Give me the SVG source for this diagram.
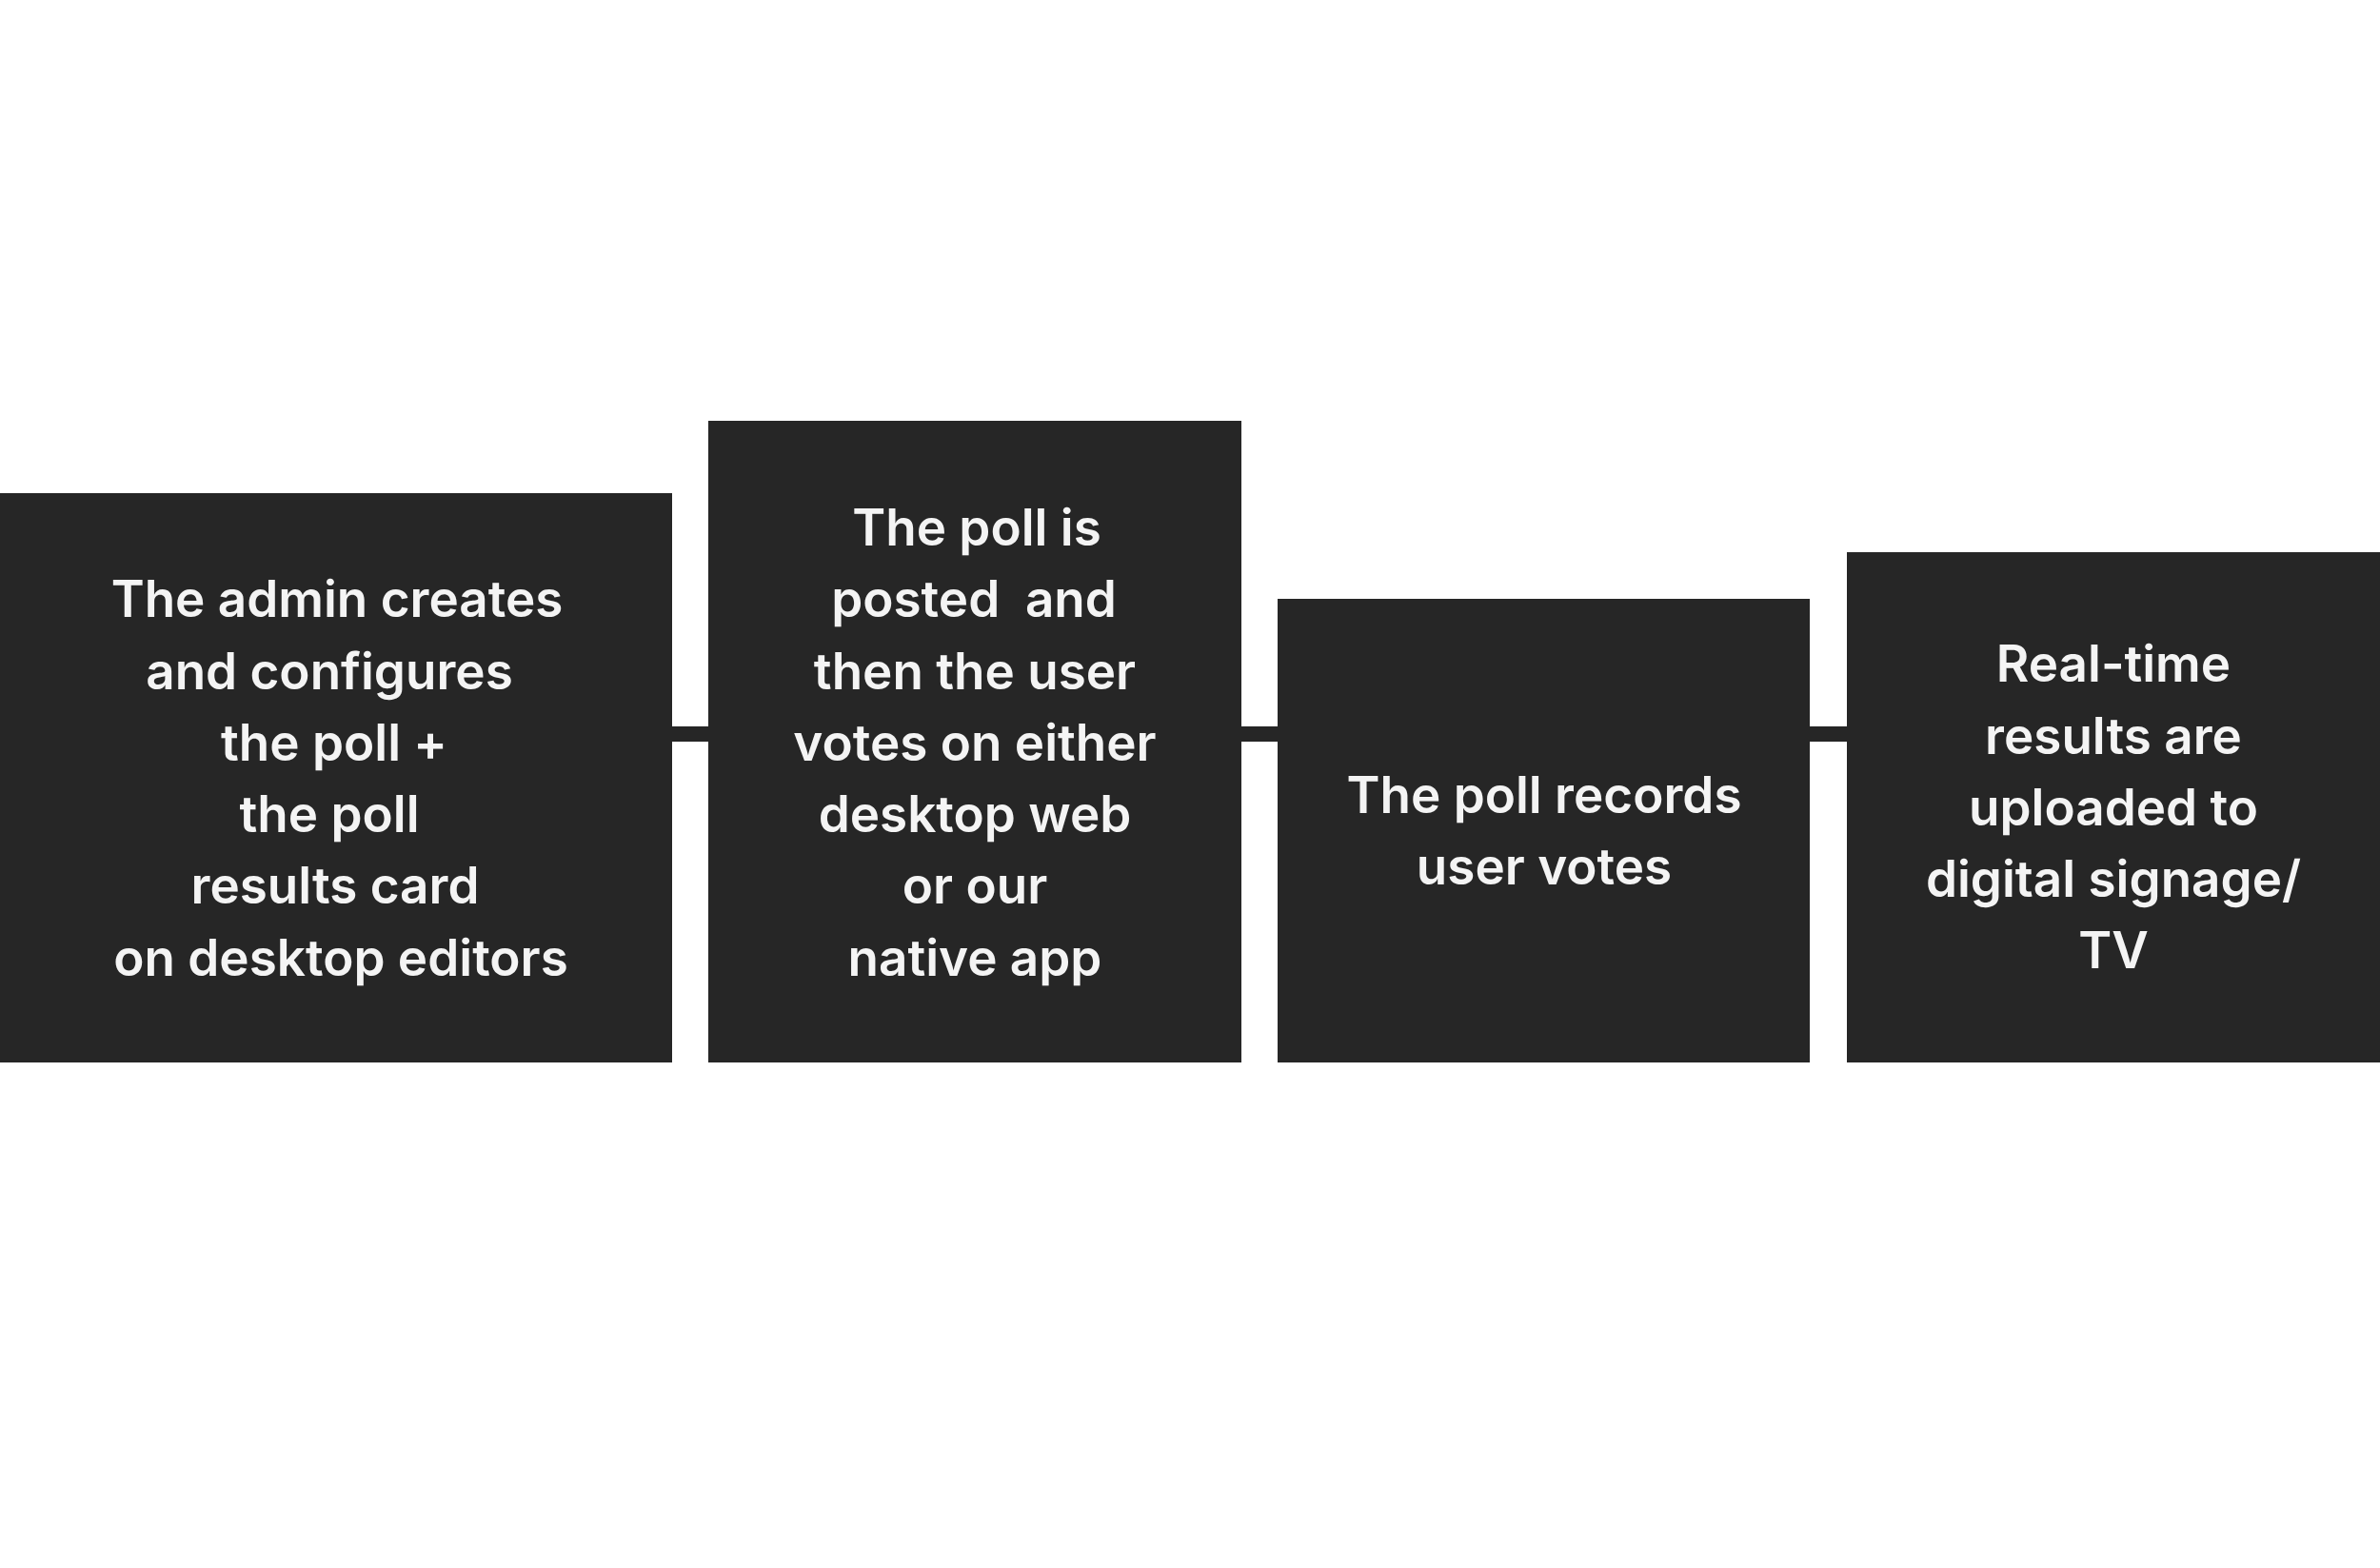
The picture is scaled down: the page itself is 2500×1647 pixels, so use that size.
<svg xmlns="http://www.w3.org/2000/svg" width="2500" height="1647" viewBox="0 0 2500 1647">
<style>
.box{fill:#262626}
.conn{fill:#262626}
.lbl{font-family:Inter,"Noto Sans","Liberation Sans",sans-serif;font-weight:600;font-size:53px;fill:#f4f4f4;text-anchor:middle}
</style>
<rect x="0" y="0" width="2500" height="1647" fill="#ffffff"/>
<g id="connectors">
<rect class="conn" x="700" y="763" width="50" height="16"/>
<rect class="conn" x="1298" y="763" width="50" height="16"/>
<rect class="conn" x="1895" y="763" width="50" height="16"/>
</g>
<g id="node1">
<rect class="box" x="0" y="518" width="706" height="598"/>
<text class="lbl" x="354" y="648">The admin creates</text>
<text class="lbl" x="346" y="724">and configures</text>
<text class="lbl" x="351" y="799">the poll +</text>
<text class="lbl" x="346" y="874">the poll</text>
<text class="lbl" x="352" y="949">results card</text>
<text class="lbl" x="358" y="1025">on desktop editors</text>
</g>
<g id="node2">
<rect class="box" x="744" y="442" width="560" height="674"/>
<text class="lbl" x="1026" y="573">The poll is</text>
<text class="lbl" x="1023" y="648" style="white-space:pre">posted  and</text>
<text class="lbl" x="1024" y="724">then the user</text>
<text class="lbl" x="1024" y="799">votes on either</text>
<text class="lbl" x="1024" y="874">desktop web</text>
<text class="lbl" x="1024" y="949">or our</text>
<text class="lbl" x="1024" y="1025">native app</text>
</g>
<g id="node3">
<rect class="box" x="1342" y="629" width="559" height="487"/>
<text class="lbl" x="1622" y="854">The poll records</text>
<text class="lbl" x="1622" y="929">user votes</text>
</g>
<g id="node4">
<rect class="box" x="1940" y="580" width="560" height="536"/>
<text class="lbl" x="2220" y="716">Real-time</text>
<text class="lbl" x="2220" y="792">results are</text>
<text class="lbl" x="2220" y="867">uploaded to</text>
<text class="lbl" x="2220" y="942">digital signage/</text>
<text class="lbl" x="2220" y="1017">TV</text>
</g>
</svg>
